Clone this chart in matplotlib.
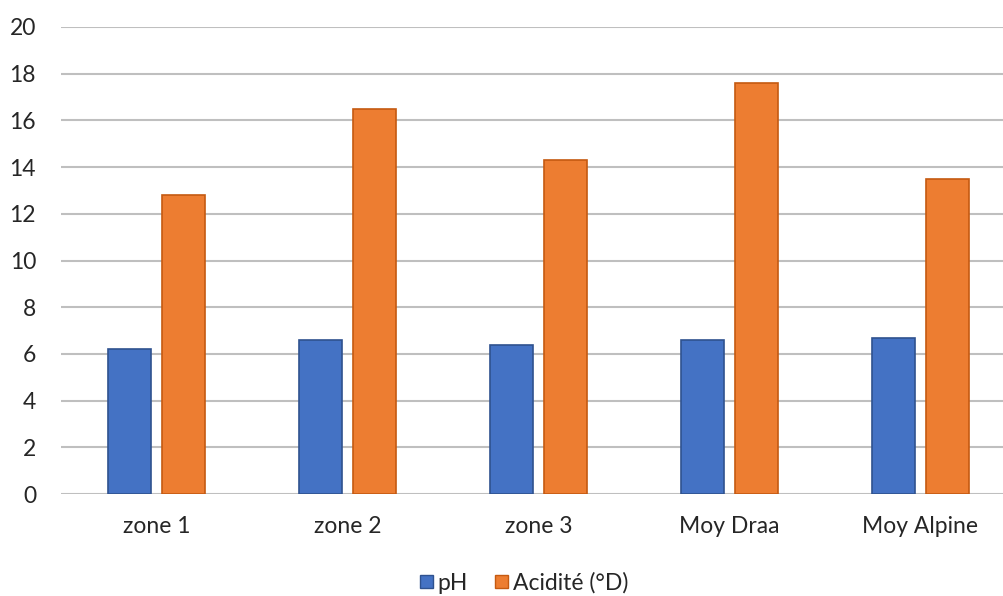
import numpy as np
import matplotlib.pyplot as plt
from matplotlib.patches import Patch

# Mesures par zone
categories = ["zone 1", "zone 2", "zone 3", "Moy Draa", "Moy Alpine"]
ph = [6.2, 6.6, 6.4, 6.6, 6.7]
acidite = [12.8, 16.5, 14.3, 17.6, 13.5]
yticks = [0, 2, 4, 6, 8, 10, 12, 14, 16, 18, 20]

plt.rcParams['font.family'] = ['Lato', 'DejaVu Sans']

blue, blue_edge = '#4472C4', '#2F528F'
orange, orange_edge = '#ED7D31', '#C55A11'

fig = plt.figure(figsize=(10.04, 5.96), dpi=100)
ax = fig.add_axes([0.0608, 0.171, 0.951, 0.7837])

x = np.arange(len(categories))
w = 0.226
off = 0.141
ax.bar(x - off, ph, w, color=blue, edgecolor=blue_edge, linewidth=1.2, zorder=3)
ax.bar(x + off, acidite, w, color=orange, edgecolor=orange_edge, linewidth=1.2, zorder=3)

ax.set_xlim(-0.5, len(categories) - 0.5)
ax.set_ylim(0, 20)
ax.set_yticks(yticks)
ax.yaxis.grid(True, color='#BFBFBF', linewidth=1.5, zorder=0)
ax.set_axisbelow(True)
for s in ax.spines.values():
    s.set_visible(False)

ax.set_xticks(x)
ax.set_xticklabels(categories)
ax.tick_params(axis='both', length=0, labelsize=16.5, colors='#262626')
ax.tick_params(axis='x', pad=16)
ax.tick_params(axis='y', pad=18)
for lbl in ax.get_yticklabels():
    lbl.set_horizontalalignment('right')

handles = [Patch(facecolor=blue, edgecolor=blue_edge, label='pH'),
           Patch(facecolor=orange, edgecolor=orange_edge, label='Acidité (°D)')]
fig.legend(handles=handles, loc='center', bbox_to_anchor=(0.522, 0.022),
           ncol=2, frameon=False, fontsize=16.5, handlelength=0.55, handleheight=0.55,
           handletextpad=0.2, columnspacing=1.2, labelcolor='#262626')

fig.savefig('out.png', dpi=100)
